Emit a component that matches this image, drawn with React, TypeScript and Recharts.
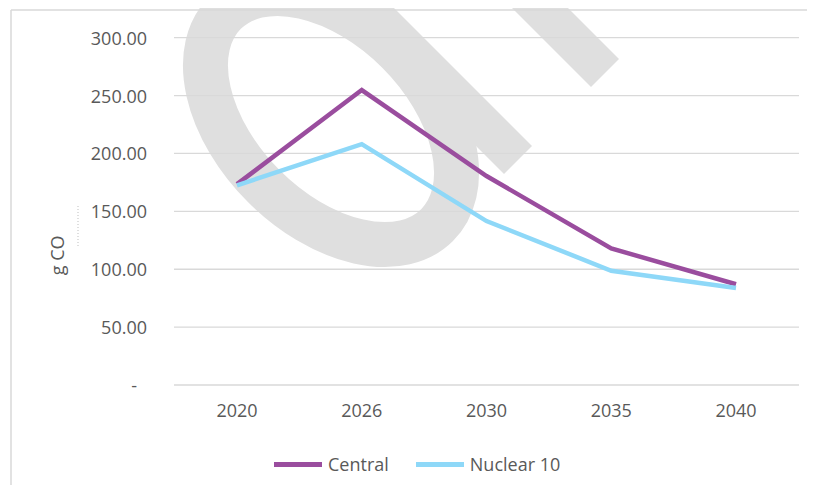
import type { ReactElement } from 'react'
import { CartesianGrid, Legend, Line, LineChart, XAxis, YAxis } from 'recharts'

const YEARS = ['2020', '2026', '2030', '2035', '2040']
const CENTRAL = [173.5, 254.8, 180.5, 118, 87]
const NUCLEAR_10 = [172.5, 208, 141.6, 98.7, 83.8]
const Y_TICKS = [0, 50, 100, 150, 200, 250, 300]

const SERIES = [
  { key: 'central', name: 'Central', color: '#9A4D9E' },
  { key: 'nuclear', name: 'Nuclear 10', color: '#8ED8F8' }
]

const data = YEARS.map((year, i) => ({ year, central: CENTRAL[i], nuclear: NUCLEAR_10[i] }))

const FONT = '"Open Sans", "Noto Sans", sans-serif'
const TEXT = '#595959'
const GRID = '#D9D9D9'
const MARK = '#DFDFDF'

function YTick(props: any): ReactElement {
  const { x, y, payload } = props
  const v = payload.value as number
  return (
    <text x={v === 0 ? x - 10 : x} y={y} dy={7} textAnchor="end" fill={TEXT} fontSize={18} fontFamily={FONT}>
      {v === 0 ? '-' : v.toFixed(2)}
    </text>
  )
}

function XTick(props: any): ReactElement {
  const { x, y, payload } = props
  return (
    <text x={x} y={y} dy={26} textAnchor="middle" fill={TEXT} fontSize={18} fontFamily={FONT}>
      {payload.value}
    </text>
  )
}

function LegendRow(): ReactElement {
  return (
    <div style={{ display: 'flex', alignItems: 'center', height: 28, paddingLeft: 274, fontFamily: FONT, fontSize: 18, color: TEXT }}>
      {SERIES.map((s, i) => (
        <span key={s.key} style={{ display: 'inline-flex', alignItems: 'center', marginRight: i === 0 ? 27 : 0 }}>
          <span style={{ width: 48, height: 5, background: s.color, marginRight: 6 }} />
          <span>{s.name}</span>
        </span>
      ))}
    </div>
  )
}

// decorative watermark + frame, drawn behind the chart svg
function Backdrop(): ReactElement {
  return (
    <svg width={815} height={493} style={{ position: 'absolute', left: 0, top: 0 }}>
      <ellipse cx={331} cy={119} rx={150} ry={95} transform="rotate(45 331 119)" fill="none" stroke={MARK} strokeWidth={45} />
      <polygon points="330,-56 532,146 504,174 274,-56" fill={MARK} />
      <polygon points="550,-10 619,59 591,87 494,-10" fill={MARK} />
      <line x1={11} y1={10} x2={815} y2={10} stroke={GRID} strokeWidth={1.5} />
      <line x1={11} y1={10} x2={11} y2={493} stroke={GRID} strokeWidth={1.5} />
      <line x1={78} y1={206} x2={78} y2={248} stroke="#BFBFBF" strokeWidth={1} strokeDasharray="1 2" />
    </svg>
  )
}

export default function App(): ReactElement {
  return (
    <div style={{ position: 'relative', width: 815, height: 493, margin: -8, overflow: 'hidden', background: '#fff' }}>
      <Backdrop />
      <div style={{ position: 'absolute', left: 0, top: 0 }}>
        <LineChart width={815} height={493} data={data} margin={{ top: 37.7, right: 16, left: 0, bottom: 50 }}>
          <CartesianGrid vertical={false} stroke={GRID} strokeWidth={1.3} />
          <XAxis
            dataKey="year"
            padding={{ left: 63, right: 63 }}
            axisLine={false}
            tickLine={false}
            tickMargin={0}
            height={30}
            tick={<XTick />}
          />
          <YAxis
            width={174}
            domain={[0, 300]}
            ticks={Y_TICKS}
            axisLine={false}
            tickLine={false}
            tickMargin={21}
            tick={<YTick />}
            label={{ value: 'g CO', angle: -90, position: 'insideLeft', offset: 0, dx: 58, dy: 44, style: { fill: TEXT, fontSize: 18, fontFamily: FONT, textAnchor: 'middle' } }}
          />
          <Legend verticalAlign="bottom" content={<LegendRow />} wrapperStyle={{ left: 0, width: 815, bottom: 15 }} />
          {SERIES.map((s) => (
            <Line
              key={s.key}
              type="linear"
              dataKey={s.key}
              name={s.name}
              stroke={s.color}
              strokeWidth={4.5}
              dot={false}
              activeDot={false}
              isAnimationActive={false}
            />
          ))}
        </LineChart>
      </div>
    </div>
  )
}
